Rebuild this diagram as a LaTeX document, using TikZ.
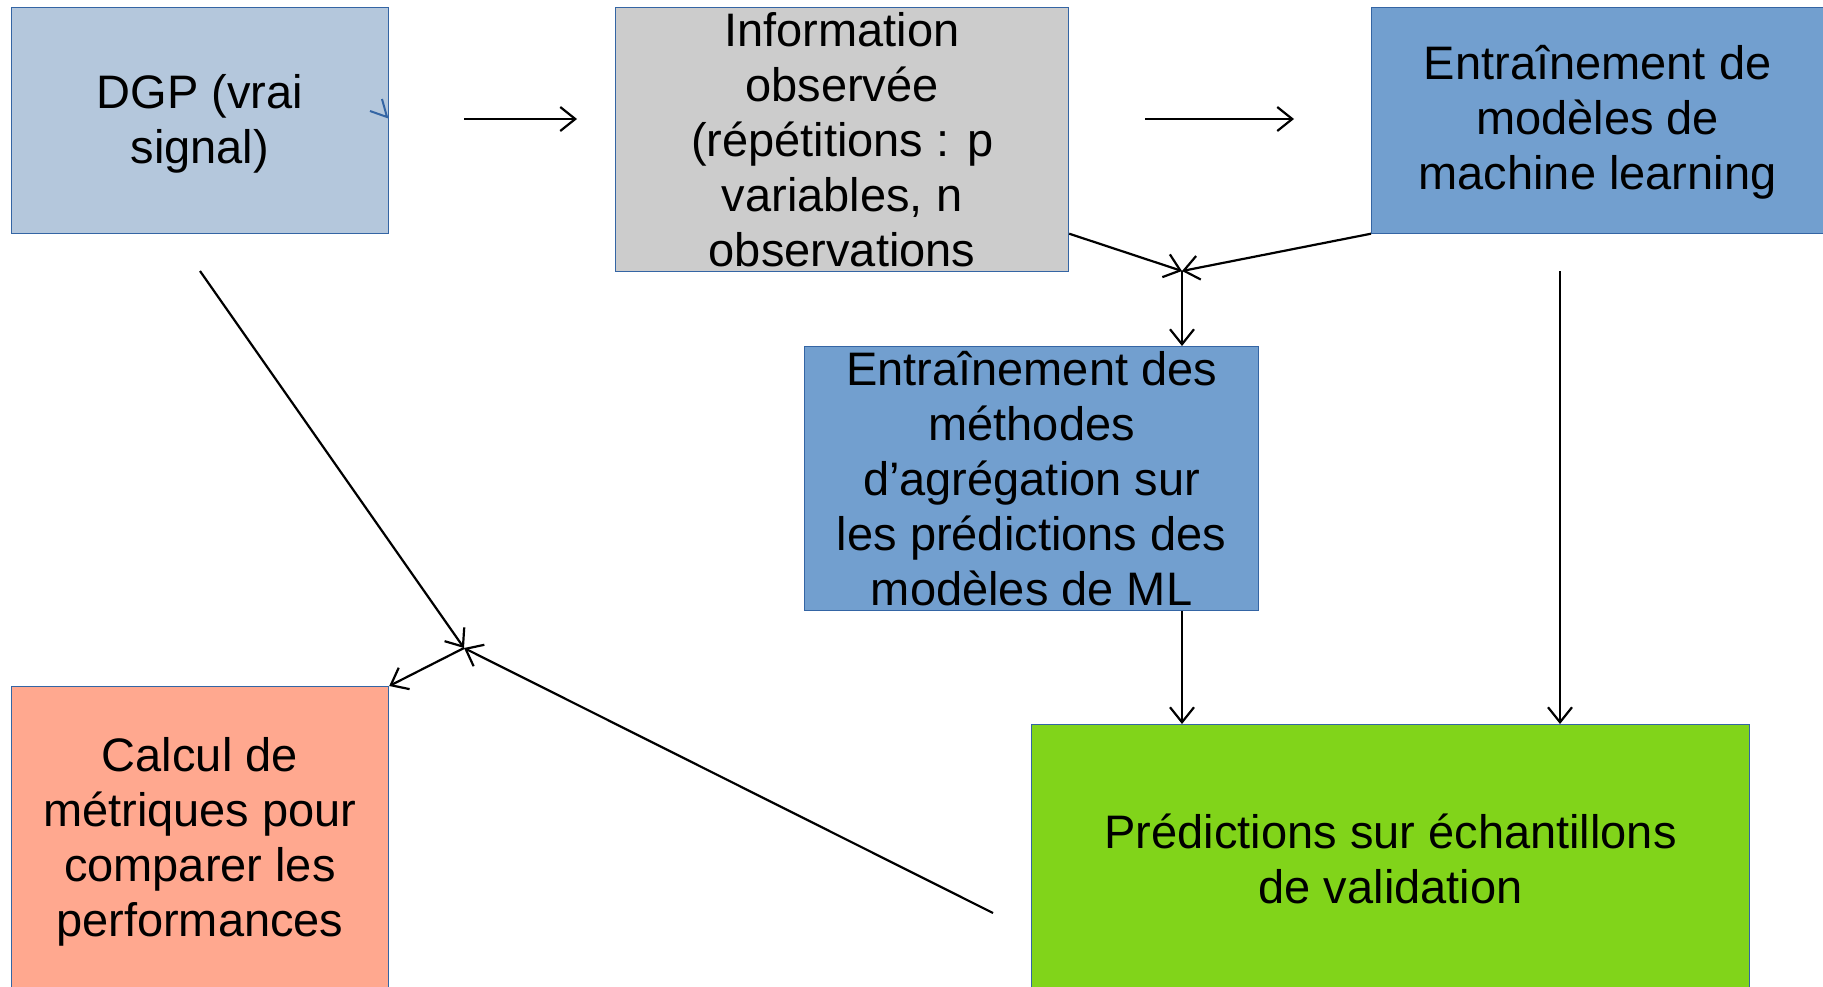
\documentclass[tikz,border=0pt]{standalone}
\usepackage{fontspec}
\setmainfont{Liberation Sans}
\usetikzlibrary{arrows.meta,calc}
\definecolor{boxline}{HTML}{3465A4}
\definecolor{dgpc}{HTML}{B4C7DC}
\definecolor{infoc}{HTML}{CCCCCC}
\definecolor{mlc}{HTML}{729FCF}
\definecolor{valc}{HTML}{81D41A}
\definecolor{metc}{HTML}{FFA88F}
\tikzset{
  box/.style={draw=boxline, line width=1.2pt, inner sep=0pt, anchor=north west},
  txt/.style={align=center, inner sep=0pt, font=\fontsize{47}{55}\selectfont},
  conn/.style={line width=2.2pt, -{Straight Barb[length=15pt,width=24pt,line width=2.2pt]}},
  tick/.style={draw=boxline, line width=2pt}
}
\begin{document}
\begin{tikzpicture}[x=1pt,y=-1pt]
\useasboundingbox (0,0) rectangle (1823,986);
% boxes
\node[box, fill=dgpc, minimum width=377.5pt, minimum height=225.5pt] (dgp) at (10.5,7) {};
\node[txt] (dgpt) at ([yshift=-3pt]dgp.center) {DGP (vrai\\signal)};
\node[box, fill=infoc, minimum width=453pt, minimum height=264pt] (info) at (615,7) {};
\node[txt] (infot) at (info.center) {Information\\observée\\(répétitions : p\\variables, n\\observations};
\node[box, fill=mlc, minimum width=452pt, minimum height=225.5pt] (ml) at (1371,7) {};
\node[txt] (mlt) at ([yshift=-2pt]ml.center) {Entraînement de\\modèles de\\machine learning};
\node[box, fill=mlc, minimum width=454pt, minimum height=264pt] (agg) at (804,346) {};
\node[txt] (aggt) at (agg.center) {Entraînement des\\méthodes\\d’agrégation sur\\les prédictions des\\modèles de ML};
\node[box, fill=valc, minimum width=718pt, minimum height=268pt] (val) at (1031,724) {};
\node[txt] (valt) at (val.center) {Prédictions sur échantillons\\de validation};
\node[box, fill=metc, minimum width=377.5pt, minimum height=306pt] (met) at (10.5,686) {};
\node[txt] (mett) at ([yshift=-2pt]met.center) {Calcul de\\métriques pour\\comparer les\\performances};
% small blue tick in DGP box
\coordinate (tk) at (387,117);
\draw[tick] (370,111) -- (tk) -- (382,99);
% coordinates
\coordinate (a1s) at (464,119);
\coordinate (a1e) at (577,119);
\coordinate (a2s) at (1145,119);
\coordinate (a2e) at (1294,119);
\coordinate (j1) at (1182,271);
\coordinate (j2) at (464,648);
\coordinate (dgpout) at (200,271);
\coordinate (valout) at (993,913);
\coordinate (mlout) at (1560,271);
\coordinate (infoout) at (info.east |- ml.south west);
% connectors
\draw[conn] (a1s) -- (a1e);
\draw[conn] (a2s) -- (a2e);
\draw[conn] (infoout) -- (j1);
\draw[conn] (ml.south west) -- (j1);
\draw[conn] (j1) -- (j1 |- agg.north);
\draw[conn] (j1 |- agg.south) -- (j1 |- val.north);
\draw[conn] (mlout) -- (mlout |- val.north);
\draw[conn] (dgpout) -- (j2);
\draw[conn] (valout) -- (j2);
\draw[conn] (j2) -- (met.north east);
\end{tikzpicture}
\end{document}
